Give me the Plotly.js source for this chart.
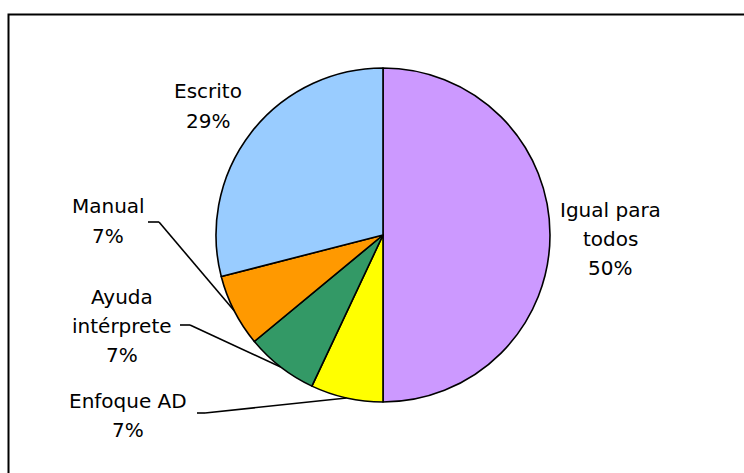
<!DOCTYPE html>
<html>
<head>
<meta charset="utf-8">
<script src="https://cdn.plot.ly/plotly-3.0.1.min.js"></script>
<style>html,body{margin:0;padding:0;background:#fff;}#chart{width:744px;height:473px;}</style>
</head>
<body>
<div id="chart"></div>
<script>
// Data (clockwise from 12 o'clock)
const categories = ["Igual para todos", "Enfoque AD", "Ayuda intérprete", "Manual", "Escrito"];
const labelLines = [["Igual para", "todos"], ["Enfoque AD"], ["Ayuda", "intérprete"], ["Manual"], ["Escrito"]];
const values = [50, 7, 7, 7, 29];
const colors = ["#CC99FF", "#FFFF00", "#339966", "#FF9900", "#99CCFF"];

// Layout geometry (pixels)
const W = 744, H = 473;
const cx = 383, cy = 235, R = 167;
const lineGap = 29;
// label block centres and leader elbows (null = no leader line)
const labelPos = [[610, 239], [128, 415], [122, 326], [108, 221], [208, 106]];
const leaderStart = [null, [197, 413], [180, 325], [148, 222], null];
const leaderElbow = [null, [205, 413], [190, 325], [159, 222], null];

const px = x => x / W;
const py = y => 1 - y / H;

const total = values.reduce((a, b) => a + b, 0);
const annotations = [];
const shapes = [];
let cum = 0;
values.forEach((v, i) => {
  const mid = (cum + v / 2) / total * 2 * Math.PI;
  cum += v;
  const pct = Math.round(v / total * 100) + "%";
  const lines = labelLines[i].concat([pct]);
  const y0 = labelPos[i][1] - (lines.length - 1) * lineGap / 2;
  lines.forEach((t, k) => {
    annotations.push({
      xref: "paper", yref: "paper", x: px(labelPos[i][0]), y: py(y0 + k * lineGap),
      xanchor: "center", yanchor: "middle", showarrow: false, align: "center",
      text: t,
      font: {family: "DejaVu Sans, Verdana, sans-serif", size: 20, color: "#000"}
    });
  });
  if (leaderStart[i]) {
    const ex = cx + R * Math.sin(mid), ey = cy - R * Math.cos(mid);
    const s = leaderStart[i], e = leaderElbow[i];
    shapes.push({type: "line", xref: "paper", yref: "paper",
      x0: px(s[0]), y0: py(s[1]), x1: px(e[0]), y1: py(e[1]), line: {color: "#000", width: 1.6}});
    shapes.push({type: "line", xref: "paper", yref: "paper",
      x0: px(e[0]), y0: py(e[1]), x1: px(ex), y1: py(ey), line: {color: "#000", width: 1.6}});
  }
});
// outer frame
shapes.push({type: "rect", xref: "paper", yref: "paper",
  x0: px(8.5), x1: 1.2, y0: -0.2, y1: py(14.5), line: {color: "#000", width: 2}, fillcolor: "rgba(0,0,0,0)"});

const trace = {
  type: "pie",
  labels: categories,
  values: values,
  marker: {colors: colors, line: {color: "#000", width: 1.6}},
  sort: false,
  direction: "clockwise",
  rotation: 0,
  textinfo: "none",
  hoverinfo: "label+percent",
  domain: {x: [px(cx - R), px(cx + R)], y: [py(cy + R), py(cy - R)]},
  showlegend: false
};

Plotly.newPlot("chart", [trace], {
  width: W, height: H,
  margin: {l: 0, r: 0, t: 0, b: 0},
  paper_bgcolor: "#fff",
  showlegend: false,
  annotations: annotations,
  shapes: shapes
}, {displayModeBar: false, staticPlot: true});
</script>
</body>
</html>
